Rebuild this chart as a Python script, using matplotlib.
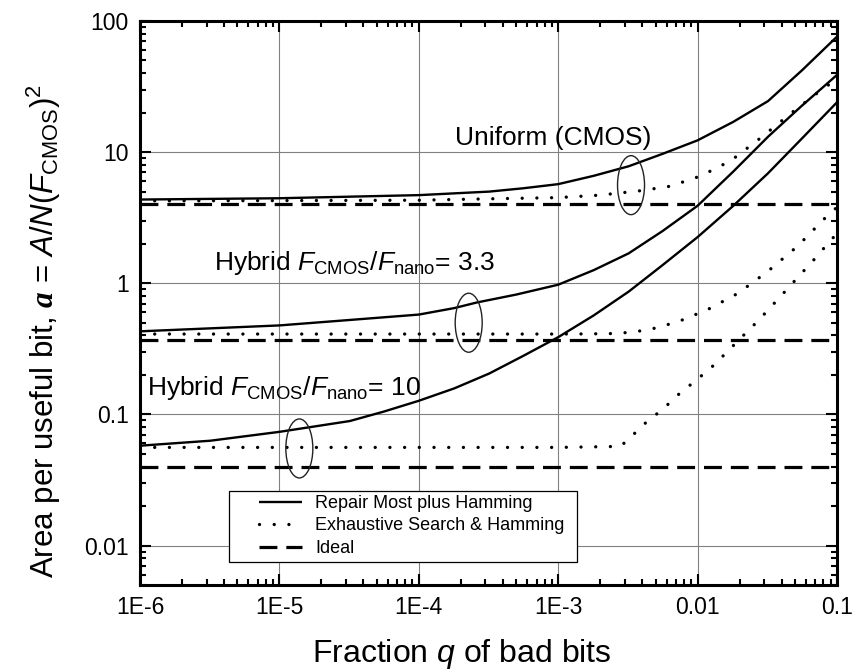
import numpy as np
import matplotlib
matplotlib.use('Agg')
import matplotlib.pyplot as plt
from matplotlib.patches import Ellipse, Rectangle
from matplotlib.transforms import ScaledTranslation
from matplotlib.lines import Line2D

plt.rcParams['font.family'] = ['Liberation Sans', 'DejaVu Sans']
plt.rcParams['mathtext.fontset'] = 'custom'
plt.rcParams['mathtext.rm'] = 'Liberation Sans'
plt.rcParams['mathtext.it'] = 'Liberation Sans:italic'
plt.rcParams['mathtext.bf'] = 'Liberation Sans:bold'
plt.rcParams['mathtext.cal'] = 'Liberation Serif:italic:bold'

# ---------------- data ----------------
# Uniform (CMOS)
q_uni_repair = [1e-6, 1e-5, 1e-4, 3.2e-4, 5.6e-4, 1e-3, 1.8e-3, 3.2e-3, 5.6e-3, 1e-2, 1.8e-2, 3.2e-2, 5.6e-2, 1e-1]
a_uni_repair = [4.35, 4.45, 4.7, 5.0, 5.3, 5.7, 6.6, 7.8, 9.7, 12.3, 17.0, 24.5, 42, 76]
q_uni_exh = [1e-6, 1e-5, 1e-4, 3e-4, 1e-3, 2e-3, 3.9e-3, 6.4e-3, 0.0106, 0.0173, 0.0285, 0.0468, 0.079, 0.1]
a_uni_exh = [4.25, 4.27, 4.3, 4.4, 4.5, 4.7, 5.08, 5.5, 6.6, 8.6, 12.9, 19.8, 30.4, 36]
a_uni_ideal = 4.0

# Hybrid F_CMOS/F_nano = 3.3
q_h33_repair = [1e-6, 1e-5, 3.2e-5, 1e-4, 1.8e-4, 2.6e-4, 5e-4, 1e-3, 1.8e-3, 3.2e-3, 5.6e-3,
                1e-2, 1.8e-2, 3.2e-2, 5.6e-2, 1e-1]
a_h33_repair = [0.43, 0.477, 0.525, 0.577, 0.647, 0.713, 0.82, 0.975, 1.26, 1.69, 2.5,
                3.9, 7.1, 13.1, 22.6, 38.8]
q_h33_exh = [1e-6, 1e-4, 1e-3, 1.6e-3, 2.7e-3, 4.4e-3, 7.2e-3, 0.0118, 0.0194, 0.0318, 0.0522, 0.081, 0.1]
a_h33_exh = [0.41, 0.41, 0.41, 0.411, 0.414, 0.44, 0.508, 0.63, 0.836, 1.23, 1.92, 3.1, 3.8]
a_h33_ideal = 0.367

# Hybrid F_CMOS/F_nano = 10
q_h10_repair = [1e-6, 3.2e-6, 1e-5, 3.2e-5, 5.6e-5, 1e-4, 1.8e-4, 3.2e-4, 5.6e-4, 1e-3, 1.8e-3,
                3.2e-3, 5.6e-3, 1e-2, 1.8e-2, 3.2e-2, 5.6e-2, 1e-1]
a_h10_repair = [0.0577, 0.063, 0.0736, 0.089, 0.105, 0.127, 0.158, 0.205, 0.279, 0.388, 0.569,
                0.863, 1.374, 2.25, 3.89, 6.9, 12.7, 24]
q_h10_exh = [1e-6, 1e-5, 1e-4, 1e-3, 2.8e-3, 3.5e-3, 4.3e-3, 5.6e-3, 7.3e-3, 0.01, 0.013, 0.0166,
             0.0213, 0.0273, 0.034, 0.043, 0.054, 0.0675, 0.085, 0.1]
a_h10_exh = [0.056, 0.056, 0.056, 0.056, 0.057, 0.071, 0.0875, 0.109, 0.142, 0.186, 0.236, 0.306,
             0.40, 0.52, 0.67, 0.88, 1.15, 1.49, 1.98, 2.4]
a_h10_ideal = 0.040

x_ticks = [1e-6, 1e-5, 1e-4, 1e-3, 1e-2, 1e-1]
x_ticklabels = ['1E-6', '1E-5', '1E-4', '1E-3', '0.01', '0.1']
y_ticks = [0.01, 0.1, 1, 10, 100]
y_ticklabels = ['0.01', '0.1', '1', '10', '100']

legend_labels = ['Repair Most plus Hamming', 'Exhaustive Search & Hamming', 'Ideal']

# ---------------- styles ----------------
solid_kw = dict(color='black', lw=1.7, linestyle='-', solid_capstyle='butt', solid_joinstyle='round')
dot_kw = dict(color='black', lw=2.4, linestyle=(0, (0.01, 4.4)), dash_capstyle='round')
dash_kw = dict(color='black', lw=2.3, linestyle=(0, (5.6, 2.8)), dash_capstyle='butt')

W, H = 854, 672
AX_L, AX_R, AX_T, AX_B = 140, 837, 21, 585
fig = plt.figure(figsize=(W / 100, H / 100), dpi=100)
ax = fig.add_axes([AX_L / W, 1 - AX_B / H, (AX_R - AX_L) / W, (AX_B - AX_T) / H])
ax.set_xscale('log')
ax.set_yscale('log')
ax.set_xlim(1e-6, 0.1)
ax.set_ylim(0.005, 100)

for q, a in [(q_uni_repair, a_uni_repair), (q_h33_repair, a_h33_repair), (q_h10_repair, a_h10_repair)]:
    ax.plot(q, a, **solid_kw, zorder=3)
for q, a in [(q_uni_exh, a_uni_exh), (q_h33_exh, a_h33_exh), (q_h10_exh, a_h10_exh)]:
    ax.plot(q, a, **dot_kw, zorder=3)
for a in [a_uni_ideal, a_h33_ideal, a_h10_ideal]:
    ax.plot([x_ticks[0], x_ticks[-1]], [a, a], **dash_kw, zorder=3)

ax.set_xticks(x_ticks)
ax.set_xticklabels(x_ticklabels)
ax.set_yticks(y_ticks)
ax.set_yticklabels(y_ticklabels)
ax.tick_params(which='both', direction='in', top=True, right=True, width=1.5, labelsize=16.5)
ax.tick_params(which='major', length=8)
ax.tick_params(which='minor', length=4)
ax.tick_params(axis='x', pad=8)
ax.tick_params(axis='y', pad=8)
for s in ax.spines.values():
    s.set_linewidth(2.2)
ax.grid(True, which='major', color='#808080', lw=0.8)
ax.set_axisbelow(True)

ax.set_xlabel(r'Fraction $\mathit{q}$ of bad bits', fontsize=23)
ax.xaxis.set_label_coords(0.461, -0.092)
ax.set_ylabel(r'Area per useful bit, $\mathcal{a}$ = $\mathit{A/N}$($\mathit{F}_{\mathrm{CMOS}}$)$^2$', fontsize=22.5)
ax.yaxis.set_label_coords(-0.11, 0.45)

# annotations
txt_kw = dict(fontsize=19, ha='left', va='baseline', zorder=6)
ax.text(1.81e-4, 11.3, 'Uniform (CMOS)', **txt_kw)
ax.text(3.38e-6, 1.256, r'Hybrid $\mathit{F}_{\mathrm{CMOS}}/\mathit{F}_{\mathrm{nano}}$= 3.3', **txt_kw)
ax.text(1.12e-6, 0.141, r'Hybrid $\mathit{F}_{\mathrm{CMOS}}/\mathit{F}_{\mathrm{nano}}$= 10', **txt_kw)

ellipse_centers = [(3.33e-3, 5.6), (2.28e-4, 0.5), (1.39e-5, 0.055)]
for (cx, cy) in ellipse_centers:
    e = Ellipse((0, 0), 0.27, 0.59, fill=False, ec='#222222', lw=1.0,
                transform=fig.dpi_scale_trans + ScaledTranslation(cx, cy, ax.transData), zorder=5)
    ax.add_patch(e)

# legend with a manual frame
axw, axh = AX_R - AX_L, AX_B - AX_T
frame = Rectangle(((229 - AX_L) / axw, (AX_B - 562) / axh), 348 / axw, 71 / axh, transform=ax.transAxes,
                  fc='white', ec='black', lw=0.9, zorder=6)
ax.add_patch(frame)
handles = [Line2D([], [], **solid_kw), Line2D([], [], **dot_kw), Line2D([], [], **dash_kw)]
leg = ax.legend(handles, legend_labels, loc='upper left',
                bbox_to_anchor=((259 - AX_L) / axw, (AX_B - 495) / axh),
                frameon=False, fontsize=13, borderpad=0, borderaxespad=0, handlelength=2.4,
                handletextpad=0.7, labelspacing=0.3)
leg.set_zorder(7)

fig.savefig('out.png', dpi=100)
